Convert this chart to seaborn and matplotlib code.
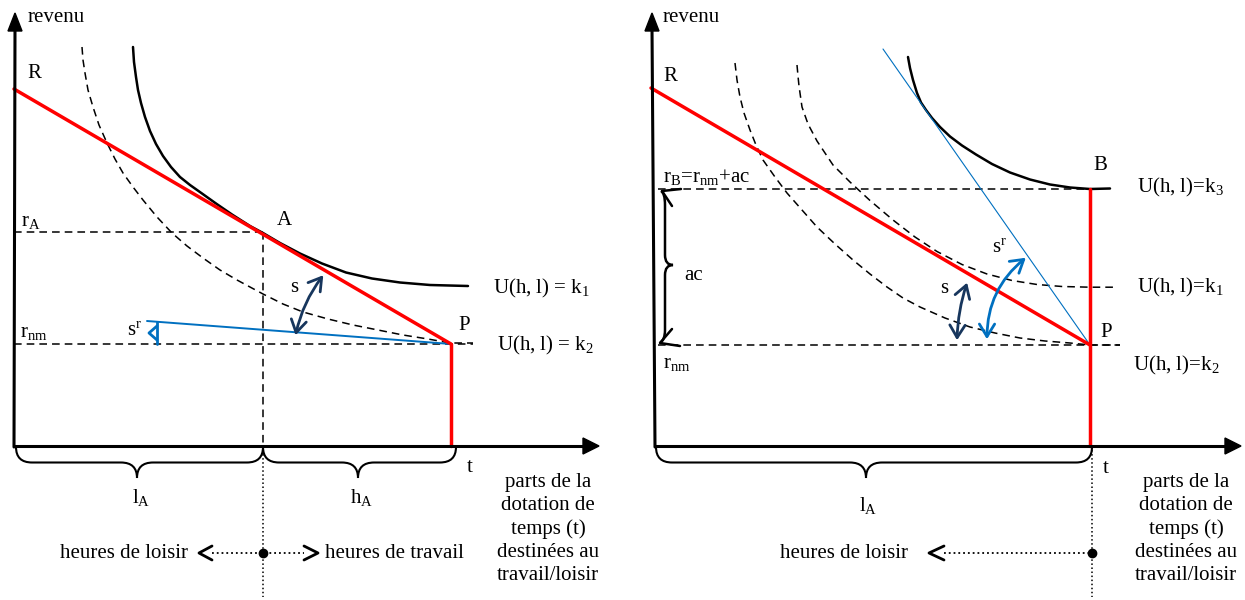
import matplotlib
matplotlib.use("Agg")
import matplotlib.pyplot as plt
from matplotlib.path import Path
from matplotlib.patches import PathPatch, FancyArrowPatch, Polygon
import seaborn as sns

# Coordinates are in the pixel space of the original sketch (y grows downward)

# --- left diagram ---
L_R = (14, 89)
L_A = (263, 232)
L_P = (451, 344)
L_BASE = 446
L_K1_X = [133, 134, 136, 138, 141, 145, 150, 156, 163, 171, 180, 190, 202, 216, 232, 250,
          263, 280, 300, 322, 346, 372, 400, 430, 468]
L_K1_Y = [47, 62, 77, 90, 103, 117, 131, 144, 156, 167, 177, 185, 193.5, 203.5, 214.5, 226,
          233, 243, 253.5, 263.5, 272.5, 278.5, 282.5, 285, 286]
L_K2_X = [82, 83, 85, 88, 93, 99, 107, 115, 123, 133, 143, 157, 172, 187, 203, 220, 237, 250,
          263, 283, 303, 328, 353, 378, 403, 428, 450, 473]
L_K2_Y = [47, 60, 73, 90, 107, 125, 143, 159, 173, 187, 200, 217, 233, 246, 258, 270, 280, 287,
          294, 304, 312, 319, 325, 330, 335, 339, 343, 343]
L_SR_X = [147, 451]
L_SR_Y = [321, 344]

# --- right diagram ---
R_R = (651, 88)
R_P = (1090, 345)
R_B = (1090, 189)
R_BASE = 446
R_K3_X = [908, 910, 913, 917, 921, 926, 932, 940, 950, 962, 976, 992, 1010, 1030, 1050,
          1070, 1090, 1110]
R_K3_Y = [57, 68, 80, 93, 102.5, 110, 118, 127, 136.5, 145.5, 154.5, 164, 172.5, 179.5, 184.5,
          187.5, 189, 188.5]
R_K1_X = [797, 798, 799, 802, 808, 817, 833, 850, 870, 893, 915, 937, 962, 987, 1012, 1037,
          1062, 1090, 1117]
R_K1_Y = [65, 76, 86, 107, 124, 141, 165, 182, 200.5, 220, 237, 251.5, 264.5, 274, 280.5, 284.5,
          286.5, 287.2, 287.2]
R_K2_X = [735, 737, 740, 744, 750, 756, 763, 775, 787, 802, 817, 835, 853, 870, 887, 903, 920,
          945, 970, 995, 1020, 1045, 1070, 1090, 1120]
R_K2_Y = [63, 80, 97, 113, 130, 145, 160, 177, 193, 210, 227, 244, 260, 274, 287, 298, 307,
          318, 327, 333, 338, 341, 343, 345, 345]
R_TAN_X = [883, 1090]
R_TAN_Y = [49, 345]

PARTS_LINES = ["parts de la", "dotation de", "temps (t)", "destinées au", "travail/loisir"]
PARTS_BASELINES = [487, 510, 534, 557, 580]

RED = "#FF0000"
BLUE = "#0070C0"
NAVY = "#17365D"
DASH = (0, (5, 3.3))

sns.set_theme(style="white")
plt.rcParams["font.family"] = ["Liberation Serif", "DejaVu Serif"]
plt.rcParams["mathtext.fontset"] = "custom"
plt.rcParams["mathtext.rm"] = "Liberation Serif"
plt.rcParams["mathtext.it"] = "Liberation Serif:italic"
plt.rcParams["mathtext.default"] = "regular"

fig = plt.figure(figsize=(12.45, 6), dpi=100)
ax = fig.add_axes([0, 0, 1, 1])


def line(xs, ys, color="black", lw=1.1, ls="-", z=2):
    sns.lineplot(x=xs, y=ys, sort=False, estimator=None, color=color,
                 linewidth=lw, linestyle=ls, ax=ax, zorder=z)


def label(x, y, s, ha="left", size=15):
    ax.text(x, y, s, ha=ha, va="baseline", fontsize=size, color="black", zorder=6)


def hbrace(x0, x1, xtip, y0, depth=31, r=16):
    ym = y0 + depth / 2
    yt = y0 + depth
    verts = [(x0, y0), (x0, ym), (x0 + r, ym), (xtip - r, ym), (xtip, ym), (xtip, yt),
             (xtip, ym), (xtip + r, ym), (x1 - r, ym), (x1, ym), (x1, y0)]
    codes = [Path.MOVETO, Path.CURVE3, Path.CURVE3, Path.LINETO, Path.CURVE3, Path.CURVE3,
             Path.CURVE3, Path.CURVE3, Path.LINETO, Path.CURVE3, Path.CURVE3]
    ax.add_patch(PathPatch(Path(verts, codes), fill=False, lw=1.5, color="black", zorder=4))


def axis_arrows(x_top, x_bot, base, x_end):
    line([x_top, x_bot], [28, base + 1], lw=2.2, z=5)
    line([x_bot, x_end - 14], [base, base], lw=2.2, z=5)
    ax.add_patch(Polygon([(x_top, 13), (x_top - 7, 31), (x_top + 7, 31)], color="black", zorder=5))
    ax.add_patch(Polygon([(x_end, base), (x_end - 16, base - 8), (x_end - 16, base + 8)],
                         color="black", zorder=5))


def curved_arrow(p0, p1, rad, color, lw=2.0):
    ax.add_patch(FancyArrowPatch(p0, p1, connectionstyle=f"arc3,rad={rad}",
                                 arrowstyle="<->,head_length=0.9,head_width=0.55",
                                 mutation_scale=10, color=color, lw=lw, zorder=5))


# ================= left diagram =================
# guide lines
line([14, L_A[0]], [L_A[1], L_A[1]], ls=DASH, lw=1.1)
line([L_A[0], L_A[0]], [L_A[1], L_BASE], ls=DASH, lw=1.1)
line([L_A[0], L_A[0]], [L_BASE, 597], ls=":", lw=1.1)
line([14, 473], [L_P[1], L_P[1]], ls=DASH, lw=1.1)

# indifference curves
line(L_K2_X, L_K2_Y, ls=DASH, lw=1.1)
line(L_K1_X, L_K1_Y, lw=1.8, z=3)

# reservation wage line
line(L_SR_X, L_SR_Y, color=BLUE, lw=1.4, z=3)
line([157, 157], [322, 344], color=BLUE, lw=2.0, z=3)
line([157, 149, 157], [326, 333, 340], color=BLUE, lw=2.0, z=3)

# budget constraint
line([L_R[0], L_P[0]], [L_R[1], L_P[1]], color=RED, lw=2.5, z=4)
line([L_P[0], L_P[0]], [L_P[1], L_BASE], color=RED, lw=2.5, z=4)

axis_arrows(15, 14, L_BASE, 599)

curved_arrow((325, 273), (295, 338), 0.12, NAVY)

hbrace(16, L_A[0], 137, 447)
hbrace(L_A[0], 456, 358, 447)

# bottom arrows
line([212, 304], [553, 553], ls=":", lw=1.3)
line([212, 199, 212], [546, 553, 560], lw=2.0)
line([304, 318, 304], [546, 553, 560], lw=2.0)
ax.plot([L_A[0]], [553], "o", color="black", ms=6, zorder=6)

label(28, 22, "revenu")
label(27, 78, "R")
label(21, 226, "r$_A$")
label(20, 337, "r$_{nm}$")
label(277, 225, "A")
label(290, 292, "s")
label(127, 335, "s$^r$")
label(458, 330, "P")
label(493, 293, "U(h, l) = k$_1$")
label(497, 350, "U(h, l) = k$_2$")
label(470, 472, "t", ha="center")
label(141, 503, "l$_A$", ha="center")
label(362, 503, "h$_A$", ha="center")
label(188, 558, "heures de loisir", ha="right")
label(325, 558, "heures de travail")
for txt, yb in zip(PARTS_LINES, PARTS_BASELINES):
    label(548, yb, txt, ha="center")

# ================= right diagram =================
line([658, R_B[0]], [R_B[1], R_B[1]], ls=DASH, lw=1.1)
line([658, 1120], [R_P[1], R_P[1]], ls=DASH, lw=1.1)
line([1092, 1092], [R_BASE, 597], ls=":", lw=1.1)

line(R_K2_X, R_K2_Y, ls=DASH, lw=1.1)
line(R_K1_X, R_K1_Y, ls=DASH, lw=1.1)
line(R_K3_X, R_K3_Y, lw=1.8, z=3)

line(R_TAN_X, R_TAN_Y, color=BLUE, lw=0.8, z=3)

line([R_R[0], R_P[0]], [R_R[1], R_P[1]], color=RED, lw=2.5, z=4)
line([R_B[0], R_B[0]], [R_B[1], R_BASE], color=RED, lw=2.5, z=4)

axis_arrows(652, 655, R_BASE, 1241)

curved_arrow((968, 280), (957, 343), 0.08, NAVY)
curved_arrow((1028, 256), (987, 342), 0.25, BLUE)

# vertical brace "ac"
verts = [(661, 191), (665, 193), (665, 205), (665, 255), (665, 265), (673, 265),
         (665, 265), (665, 275), (665, 330), (665, 340), (660, 343)]
codes = [Path.MOVETO, Path.CURVE3, Path.CURVE3, Path.LINETO, Path.CURVE3, Path.CURVE3,
         Path.CURVE3, Path.CURVE3, Path.LINETO, Path.CURVE3, Path.CURVE3]
ax.add_patch(PathPatch(Path(verts, codes), fill=False, lw=1.8, color="black", zorder=4))
line([681, 662, 672], [189, 191, 206], lw=1.8, z=4)
line([672, 660, 680], [329, 343, 346], lw=1.8, z=4)

hbrace(656, 1092, 866, 447)

line([944, 1092], [553, 553], ls=":", lw=1.3)
line([944, 929, 944], [546, 553, 560], lw=2.0)
ax.plot([1092], [553], "o", color="black", ms=6, zorder=6)

label(663, 22, "revenu")
label(663, 81, "R")
label(663, 182, "r$_B$=r$_{nm}$+ac")
label(684, 280, "ac")
label(663, 368, "r$_{nm}$")
label(1093, 170, "B")
label(1137, 192, "U(h, l)=k$_3$")
label(1137, 292, "U(h, l)=k$_1$")
label(1133, 370, "U(h, l)=k$_2$")
label(1100, 337, "P")
label(940, 293, "s")
label(992, 252, "s$^r$")
label(1106, 473, "t", ha="center")
label(868, 511, "l$_A$", ha="center")
label(908, 558, "heures de loisir", ha="right")
for txt, yb in zip(PARTS_LINES, PARTS_BASELINES):
    label(1186, yb, txt, ha="center")

ax.set_xlim(0, 1245)
ax.set_ylim(600, 0)
ax.axis("off")

fig.savefig("out.png", dpi=100, facecolor="white")
